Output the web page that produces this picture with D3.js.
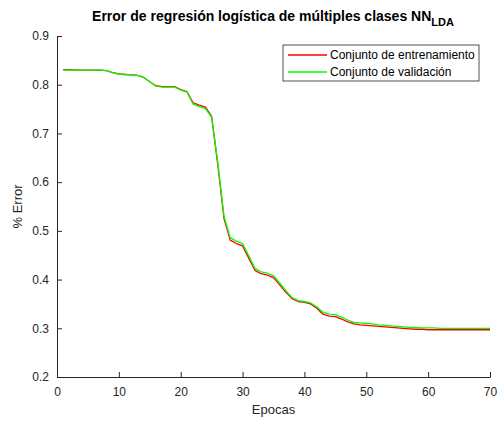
<!DOCTYPE html>
<html>
<head>
<meta charset="utf-8">
<script src="https://cdn.jsdelivr.net/npm/d3@7"></script>
<style>
  body { margin: 0; background: #fff; }
  svg { font-family: "Liberation Sans", Arial, sans-serif; }
  .axis path, .axis line { stroke: #262626; }
  .axis text { fill: #262626; font-size: 12px; }
</style>
</head>
<body>
<svg width="499" height="421"></svg>
<script>
// epocas 1..70
var epochs = d3.range(1, 71);

var trainErr = [0.831, 0.831, 0.830, 0.830, 0.830, 0.830, 0.830, 0.829, 0.825, 0.822,
    0.821, 0.820, 0.819, 0.815, 0.806, 0.798, 0.796, 0.796, 0.796, 0.790,
    0.786, 0.763, 0.758, 0.754, 0.735, 0.635, 0.525, 0.481, 0.474, 0.469,
    0.444, 0.419, 0.412, 0.409, 0.404, 0.389, 0.374, 0.361, 0.355, 0.353,
    0.350, 0.341, 0.329, 0.325, 0.324, 0.319, 0.313, 0.309, 0.307, 0.306,
    0.305, 0.304, 0.303, 0.302, 0.301, 0.300, 0.299, 0.298, 0.298, 0.297,
    0.297, 0.297, 0.297, 0.297, 0.297, 0.297, 0.297, 0.297, 0.297, 0.297];

var valErr = [0.830, 0.830, 0.830, 0.830, 0.830, 0.830, 0.830, 0.829, 0.825, 0.822,
    0.821, 0.820, 0.819, 0.815, 0.806, 0.797, 0.795, 0.795, 0.795, 0.789,
    0.785, 0.760, 0.755, 0.751, 0.733, 0.640, 0.530, 0.486, 0.479, 0.474,
    0.449, 0.423, 0.416, 0.413, 0.408, 0.393, 0.377, 0.363, 0.357, 0.355,
    0.352, 0.344, 0.333, 0.329, 0.328, 0.323, 0.317, 0.312, 0.311, 0.310,
    0.309, 0.307, 0.306, 0.305, 0.304, 0.303, 0.302, 0.302, 0.301, 0.301,
    0.301, 0.300, 0.300, 0.300, 0.300, 0.300, 0.300, 0.300, 0.300, 0.300];

var xTicks = [0, 10, 20, 30, 40, 50, 60, 70];
var yTicks = [0.2, 0.3, 0.4, 0.5, 0.6, 0.7, 0.8, 0.9];
var seriesNames = ["Conjunto de entrenamiento", "Conjunto de validación"];
var seriesColors = ["#ff0000", "#00ff00"];

var svg = d3.select("svg");
var margin = {left: 57, right: 9, top: 36, bottom: 44};
var width = 499 - margin.left - margin.right,
    height = 421 - margin.top - margin.bottom;

var x = d3.scaleLinear().domain([0, 70]).range([margin.left, margin.left + width]);
var y = d3.scaleLinear().domain([0.2, 0.9]).range([margin.top + height, margin.top]);

// ejes
svg.append("g")
    .attr("class", "axis")
    .attr("transform", "translate(0," + (margin.top + height) + ")")
    .call(d3.axisBottom(x).tickValues(xTicks).tickSizeInner(-5).tickSizeOuter(0).tickPadding(8))
    .call(function(g) { g.selectAll("text").attr("dy", "0.9em"); });

svg.append("g")
    .attr("class", "axis")
    .attr("transform", "translate(" + margin.left + ",0)")
    .call(d3.axisLeft(y).tickValues(yTicks).tickFormat(d3.format(".1f")).tickSizeInner(-5).tickSizeOuter(0).tickPadding(8));

var line = d3.line()
    .x(function(d, i) { return x(epochs[i]); })
    .y(function(d) { return y(d); });

[trainErr, valErr].forEach(function(s, i) {
    svg.append("path")
        .datum(s)
        .attr("fill", "none")
        .attr("stroke", seriesColors[i])
        .attr("stroke-width", 1.3)
        .attr("stroke-linejoin", "round")
        .attr("d", line);
});

// titulo
var title = svg.append("text")
    .attr("x", 273)
    .attr("y", 21)
    .attr("text-anchor", "middle")
    .style("font-size", "14px")
    .style("font-weight", "bold")
    .style("fill", "#000");
title.append("tspan").text("Error de regresión logística de múltiples clases NN");
title.append("tspan").attr("dy", 5).style("font-size", "11px").text("LDA");

svg.append("text")
    .attr("x", margin.left + width / 2)
    .attr("y", 414)
    .attr("text-anchor", "middle")
    .style("font-size", "13px")
    .style("fill", "#262626")
    .text("Epocas");

svg.append("text")
    .attr("transform", "translate(22," + (margin.top + height / 2) + ") rotate(-90)")
    .attr("text-anchor", "middle")
    .style("font-size", "13px")
    .style("fill", "#262626")
    .text("% Error");

// leyenda
var legend = svg.append("g").attr("transform", "translate(283,45)");
legend.append("rect")
    .attr("width", 196)
    .attr("height", 36)
    .attr("fill", "#fff")
    .attr("stroke", "#262626")
    .attr("stroke-width", 0.8);

seriesNames.forEach(function(n, i) {
    var yy = 10 + i * 17;
    legend.append("line")
        .attr("x1", 5).attr("x2", 44)
        .attr("y1", yy).attr("y2", yy)
        .attr("stroke", seriesColors[i])
        .attr("stroke-width", 1.3);
    legend.append("text")
        .attr("x", 47)
        .attr("y", yy)
        .attr("dy", "0.35em")
        .style("font-size", "12px")
        .style("fill", "#000")
        .text(n);
});
</script>
</body>
</html>
